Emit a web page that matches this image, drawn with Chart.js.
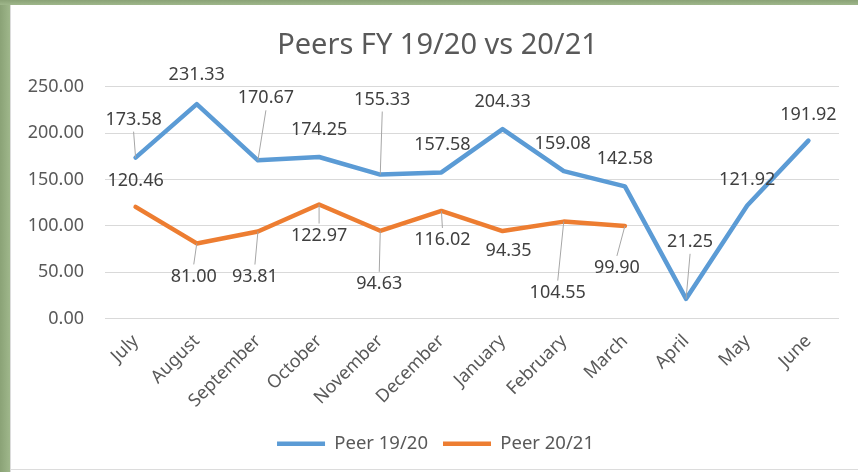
<!DOCTYPE html>
<html>
<head>
<meta charset="utf-8">
<script src="https://cdn.jsdelivr.net/npm/chart.js@4.4.1/dist/chart.umd.min.js"></script>
<style>
html,body{margin:0;padding:0;background:#fff;}
#wrap{position:relative;width:858px;height:472px;overflow:hidden;}
#c{position:absolute;left:0;top:0;}
.fr{position:absolute;pointer-events:none;}
</style>
</head>
<body>
<div id="wrap">
<canvas id="c" width="858" height="472"></canvas>
<div class="fr" style="left:0;top:0;width:10px;height:472px;background:linear-gradient(to right,#8aa276,#9fb78b);"></div>
<div class="fr" style="left:0;top:0;width:858px;height:5px;background:linear-gradient(to bottom,#8aa276,#9fb78b);"></div>
<div class="fr" style="left:10px;top:5px;width:1px;height:467px;background:#dcdcdc;"></div>
<div class="fr" style="left:10px;top:469px;width:848px;height:1px;background:#dcdcdc;"></div>
</div>
<script>
/* ===== DATA ===== */
const months = ["July","August","September","October","November","December","January","February","March","April","May","June"];
const peer1920 = [173.58,231.33,170.67,174.25,155.33,157.58,204.33,159.08,142.58,21.25,121.92,191.92];
const peer2021 = [120.46,81.00,93.81,122.97,94.63,116.02,94.35,104.55,99.90,null,null,null];
const yTicks = [0,50,100,150,200,250];

/* label placement (px offsets from point) + leader line flag */
const offs1920 = [[-2,-38,1],[0,-29,0],[8,-62,1],[0,-27,0],[2,-75,1],[1,-28,0],[0,-27,0],[-1,-27,0],[0,-27,0],[4,-57,1],[0,-26,0],[0,-26,0]];
const offs2021 = [[0,-26,0],[-3,33,1],[-3,45,1],[0,31,1],[-1,53,1],[1,29,1],[6,20,0],[-6,71,1],[-8,42,1]];

const FONT = "'Noto Sans', sans-serif";

/* ===== data labels w/ leader lines ===== */
const dataLabels = {
  id:"dataLabels",
  afterDatasetsDraw(chart){
    const ctx = chart.ctx;
    const allOffs = [offs1920, offs2021];
    ctx.save();
    ctx.font = "18px " + FONT;
    ctx.textAlign = "center";
    ctx.textBaseline = "middle";
    chart.data.datasets.forEach((ds,di)=>{
      const meta = chart.getDatasetMeta(di);
      meta.data.forEach((pt,i)=>{
        const v = ds.data[i];
        if(v===null || v===undefined) return;
        const o = allOffs[di][i];
        const lx = pt.x + o[0], ly = pt.y + o[1];
        if(o[2]){
          const edge = o[1] < 0 ? ly + 12 : ly - 12;
          ctx.beginPath();
          ctx.moveTo(pt.x, pt.y);
          ctx.lineTo(lx, edge);
          ctx.lineWidth = 1;
          ctx.strokeStyle = "#a6a6a6";
          ctx.stroke();
        }
        ctx.fillStyle = "#404040";
        ctx.fillText(v.toFixed(2), lx, ly);
      });
    });
    ctx.restore();
  }
};

/* nudge title / legend to the right like the original */
const shiftBoxes = {
  id:"shiftBoxes",
  afterLayout(chart){
    if(chart.titleBlock){ chart.titleBlock.left += 12; chart.titleBlock.right += 12; }
    if(chart.legend){ chart.legend.left += 10; chart.legend.right += 10; }
  }
};

new Chart(document.getElementById("c"),{
  type:"line",
  data:{
    labels:months,
    datasets:[
      {label:"Peer 19/20",data:peer1920,borderColor:"#5b9bd5",backgroundColor:"#5b9bd5",borderWidth:4.5,pointRadius:0,tension:0,borderJoinStyle:"round",borderCapStyle:"round"},
      {label:"Peer 20/21",data:peer2021,borderColor:"#ed7d31",backgroundColor:"#ed7d31",borderWidth:4.5,pointRadius:0,tension:0,borderJoinStyle:"round",borderCapStyle:"round"}
    ]
  },
  options:{
    responsive:false,
    animation:false,
    layout:{padding:{left:12,right:19,top:12,bottom:9}},
    plugins:{
      title:{
        display:true,
        text:"Peers FY 19/20 vs 20/21",
        color:"#595959",
        font:{family:FONT,size:29,weight:"normal"},
        padding:{top:16,bottom:24}
      },
      legend:{
        position:"bottom",
        labels:{
          color:"#595959",
          font:{family:FONT,size:18.5},
          usePointStyle:true,
          pointStyle:"line",
          pointStyleWidth:48,
          padding:15
        }
      },
      tooltip:{enabled:false}
    },
    scales:{
      x:{
        offset:true,
        grid:{display:false},
        border:{display:false},
        ticks:{color:"#595959",font:{family:FONT,size:18},minRotation:45,maxRotation:45,padding:4},
        afterFit(s){ s.height = 101; }
      },
      y:{
        min:0,max:250,
        afterBuildTicks(s){ s.ticks = yTicks.map(v=>({value:v})); },
        grid:{color:"#d9d9d9",drawTicks:false},
        border:{display:false},
        ticks:{color:"#595959",font:{family:FONT,size:18},padding:21,callback:(v)=>Number(v).toFixed(2)},
        afterFit(s){ s.width = 93; }
      }
    }
  },
  plugins:[dataLabels, shiftBoxes]
});
</script>
</body>
</html>
